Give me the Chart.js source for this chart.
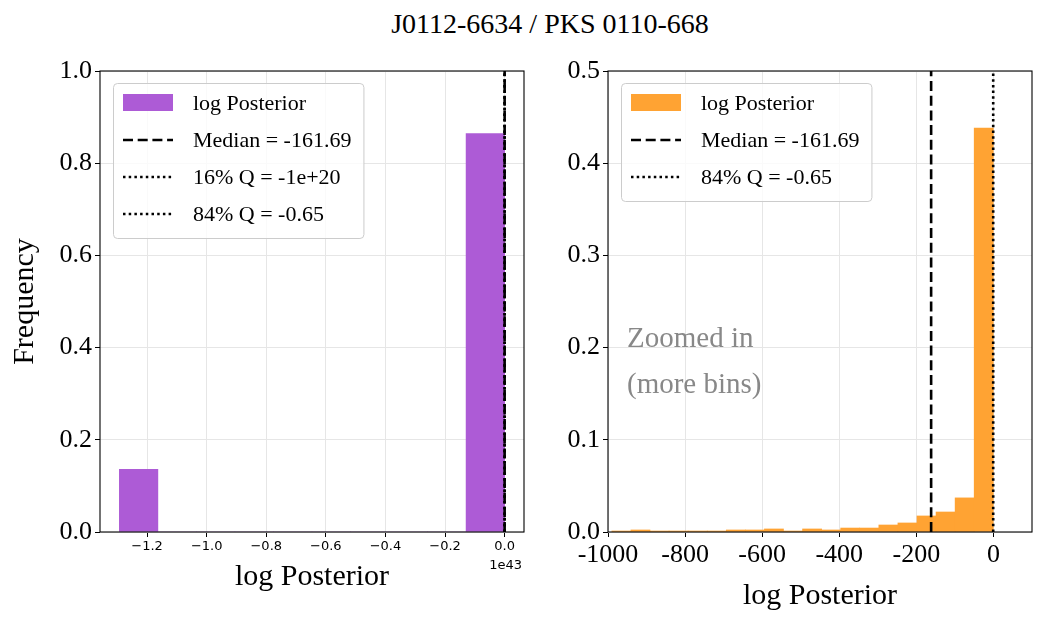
<!DOCTYPE html>
<html>
<head>
<meta charset="utf-8">
<script src="https://cdn.jsdelivr.net/npm/chart.js@4.4.0/dist/chart.umd.min.js"></script>
<style>
  html, body { margin: 0; padding: 0; background: #fff; }
  #wrap { position: relative; width: 1040px; height: 625px; overflow: hidden; }
  #title {
    position: absolute; left: 50px; top: 10px; width: 1000px;
    text-align: center; font-family: "Liberation Serif", serif;
    font-size: 28px; line-height: 28px; color: #000;
  }
  .panel { position: absolute; top: 0; }
</style>
</head>
<body>
<div id="wrap">
  <div id="title">J0112-6634 / PKS 0110-668</div>
  <div class="panel" style="left:0px"><canvas id="leftPanel" width="540" height="625"></canvas></div>
  <div class="panel" style="left:540px"><canvas id="rightPanel" width="500" height="625"></canvas></div>
</div>
<script>
// left panel: full range, x in units of 1e43
const leftBinCenters = [-1.2284, -1.0991, -0.9698, -0.8405, -0.7112, -0.5819, -0.4526, -0.3233, -0.1940, -0.0647];
const leftFreq = [0.136, 0, 0, 0, 0, 0, 0, 0, 0, 0.864];
const leftXTicks = [-1.2, -1.0, -0.8, -0.6, -0.4, -0.2, 0.0];
const leftYTicks = [0.0, 0.2, 0.4, 0.6, 0.8, 1.0];
const LEFT_OFFSET = 1e43;

// right panel: zoomed in, 20 bins
const rightBinCenters = [-965.26, -915.79, -866.31, -816.84, -767.36, -717.89, -668.41, -618.94, -569.46, -519.99,
                         -470.51, -421.04, -371.56, -322.09, -272.61, -223.14, -173.66, -124.19, -74.71, -25.24];
const rightFreq = [0.0011, 0.0022, 0.0011, 0.0011, 0.0011, 0.0011, 0.0022, 0.0022, 0.0033, 0.0011,
                   0.0033, 0.0022, 0.0043, 0.0043, 0.0076, 0.0098, 0.0174, 0.0217, 0.037, 0.438];
const rightXTicks = [-1000, -800, -600, -400, -200, 0];
const rightYTicks = [0.0, 0.1, 0.2, 0.3, 0.4, 0.5];

const median = -161.69;
const q16 = -1e20;
const q84 = -0.65;

const SERIF = '"Liberation Serif", serif';
const GRID = '#e6e6e6';
const DASHED = [10, 4.7];
const DOTTED = [2.5, 3.2];

// frame, legend and loose text drawn on top of the datasets
const decor = {
    id: 'decor',
    afterDatasetsDraw(chart, args, opts) {
        const ctx = chart.ctx;
        const a = chart.chartArea;
        ctx.save();
        ctx.strokeStyle = '#000';
        ctx.lineWidth = 1.1;
        ctx.strokeRect(a.left, a.top, a.right - a.left, a.bottom - a.top);

        (opts.notes || []).forEach(n => {
            ctx.font = n.font;
            ctx.fillStyle = n.color;
            ctx.textAlign = n.align || 'left';
            ctx.textBaseline = n.baseline || 'alphabetic';
            ctx.fillText(n.text, (n.fromRight ? a.right : a.left) + n.dx, (n.fromBottom ? a.bottom : a.top) + n.dy);
        });

        // legend
        const sets = chart.data.datasets;
        ctx.font = '22px ' + SERIF;
        const textW = Math.max(...sets.map(d => ctx.measureText(d.label).width));
        const x0 = a.left + 13, y0 = a.top + 12;
        const w = 80 + textW + 12;
        const h = 20 + 37 * (sets.length - 1) + 24;
        ctx.beginPath();
        ctx.roundRect(x0 + 0.5, y0 + 0.5, w, h, 4);
        ctx.fillStyle = 'rgba(255,255,255,0.8)';
        ctx.fill();
        ctx.strokeStyle = '#cccccc';
        ctx.lineWidth = 1;
        ctx.stroke();
        sets.forEach((d, i) => {
            const cy = y0 + 20 + 37 * i;
            if (d.type === 'bar') {
                ctx.fillStyle = d.backgroundColor;
                ctx.fillRect(x0 + 10, cy - 9, 50, 17);
            } else {
                ctx.beginPath();
                ctx.setLineDash(d.borderDash);
                ctx.strokeStyle = d.borderColor;
                ctx.lineWidth = d.borderWidth;
                ctx.moveTo(x0 + 10, cy);
                ctx.lineTo(x0 + 60, cy);
                ctx.stroke();
                ctx.setLineDash([]);
            }
            ctx.fillStyle = '#000';
            ctx.textAlign = 'left';
            ctx.textBaseline = 'middle';
            ctx.fillText(d.label, x0 + 80, cy + 1);
        });
        ctx.restore();
    }
};

function vline(label, x, yMax, dash, order) {
    return {
        type: 'line', label: label, order: order,
        data: [{x: x, y: 0}, {x: x, y: yMax}],
        borderColor: '#000', borderWidth: 2.6, borderDash: dash,
        pointRadius: 0, tension: 0
    };
}

function histPanel(canvasId, cfg) {
    const bars = {
        type: 'bar', label: 'log Posterior', order: 10,
        data: cfg.centers.map((x, i) => ({x: x, y: cfg.freq[i]})),
        backgroundColor: cfg.color, borderWidth: 0,
        barPercentage: 1, categoryPercentage: 1
    };
    return new Chart(document.getElementById(canvasId), {
        type: 'bar',
        data: { datasets: [bars].concat(cfg.lines) },
        options: {
            responsive: false,
            animation: false,
            events: [],
            layout: { padding: cfg.padding },
            plugins: {
                legend: { display: false },
                tooltip: { enabled: false },
                decor: { notes: cfg.notes }
            },
            scales: {
                x: {
                    type: 'linear', min: cfg.xMin, max: cfg.xMax,
                    offset: false,
                    afterBuildTicks: s => { s.ticks = cfg.xTicks.map(v => ({value: v})); },
                    afterFit: s => { s.height = 93; },
                    ticks: {
                        autoSkip: false, maxRotation: 0, color: '#000',
                        padding: cfg.xTickPad, font: cfg.xTickFont,
                        callback: cfg.xFormat
                    },
                    grid: { offset: false, color: GRID, tickColor: '#000', tickLength: 5, lineWidth: 1 },
                    border: { display: false },
                    title: {
                        display: true, text: 'log Posterior', color: '#000',
                        font: { family: SERIF, size: 30 },
                        padding: { top: 0, bottom: cfg.xTitlePad }
                    }
                },
                y: {
                    min: 0, max: cfg.yMax,
                    afterBuildTicks: s => { s.ticks = cfg.yTicks.map(v => ({value: v})); },
                    afterFit: s => { s.width = cfg.yWidth; },
                    ticks: {
                        color: '#000', padding: 3,
                        font: { family: SERIF, size: 26 },
                        callback: v => v.toFixed(1)
                    },
                    grid: { color: GRID, tickColor: '#000', tickLength: 5, lineWidth: 1 },
                    border: { display: false },
                    title: cfg.yTitle
                }
            }
        },
        plugins: [decor]
    });
}

histPanel('leftPanel', {
    centers: leftBinCenters, freq: leftFreq, color: '#AD5BD6',
    lines: [
        vline('Median = -161.69', median / LEFT_OFFSET, 1, DASHED, 3),
        vline('16% Q = -1e+20', q16 / LEFT_OFFSET, 1, DOTTED, 2),
        vline('84% Q = -0.65', q84 / LEFT_OFFSET, 1, DOTTED, 1)
    ],
    xMin: -1.358, xMax: 0.065, xTicks: leftXTicks, yTicks: leftYTicks, yMax: 1,
    xTickFont: { family: '"DejaVu Sans", sans-serif', size: 13 }, xTickPad: 2,
    xFormat: v => v.toFixed(1).replace('-', '\u2212'),
    xTitlePad: 30,
    yWidth: 100,
    yTitle: {
        display: true, text: 'Frequency', color: '#000',
        font: { family: SERIF, size: 30 }, padding: { top: 7, bottom: 0 }
    },
    padding: { left: 0, right: 16, top: 71, bottom: 0 },
    notes: [
        { text: LEFT_OFFSET.toExponential().replace('+', ''), font: '13px "DejaVu Sans", sans-serif', color: '#000',
          align: 'right', baseline: 'middle', fromRight: true, fromBottom: true, dx: -2, dy: 34 }
    ]
});

histPanel('rightPanel', {
    centers: rightBinCenters, freq: rightFreq, color: '#FFA333',
    lines: [
        vline('Median = -161.69', median, 0.5, DASHED, 2),
        vline('84% Q = -0.65', q84, 0.5, DOTTED, 1)
    ],
    xMin: -1000, xMax: 100, xTicks: rightXTicks, yTicks: rightYTicks, yMax: 0.5,
    xTickFont: { family: SERIF, size: 26 }, xTickPad: 3,
    xFormat: v => String(v),
    xTitlePad: 11,
    yWidth: 68,
    yTitle: { display: false },
    padding: { left: 0, right: 8, top: 71, bottom: 0 },
    notes: [
        { text: 'Zoomed in', font: '29px ' + SERIF, color: '#888', dx: 19, dy: 276 },
        { text: '(more bins)', font: '29px ' + SERIF, color: '#888', dx: 19, dy: 322 }
    ]
});
</script>
</body>
</html>
